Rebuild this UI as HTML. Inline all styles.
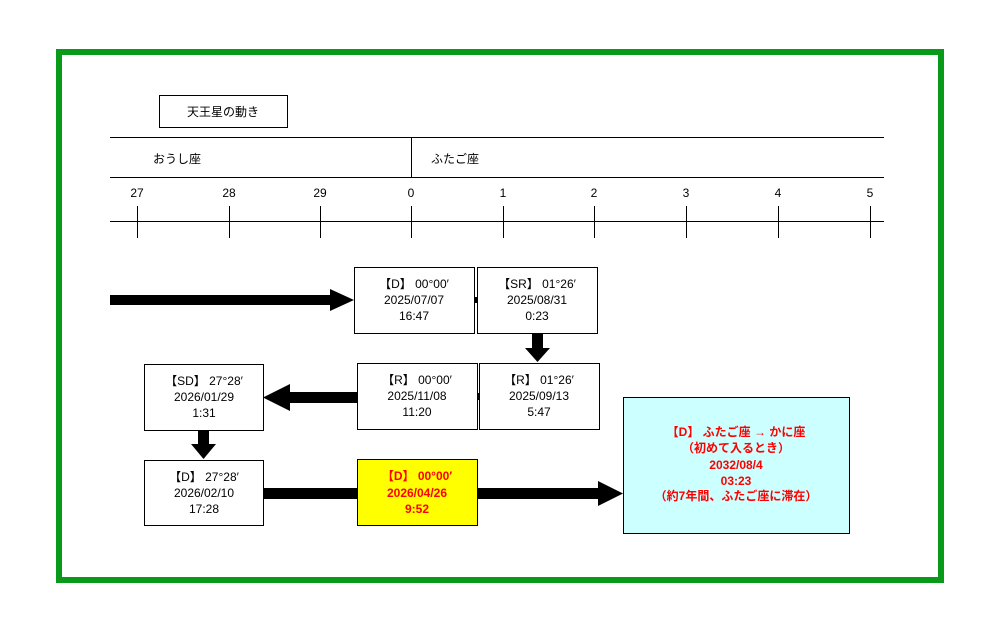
<!DOCTYPE html>
<html><head><meta charset="utf-8"><style>
body{margin:0;background:#fff;}
svg text{font-family:"Liberation Sans","Noto Sans CJK JP",sans-serif;font-size:12px;fill:#000;}
.r text{fill:#f00;font-weight:bold;}
</style></head><body>
<svg width="1000" height="636" xmlns="http://www.w3.org/2000/svg">
<rect x="59" y="52" width="882" height="528" fill="none" stroke="#0a9a1a" stroke-width="6"/>
<rect x="159.5" y="95.5" width="128" height="32" fill="#fff" stroke="#000"/>
<text x="223" y="116" text-anchor="middle" font-size="13">天王星の動き</text>
<g stroke="#000" stroke-width="1">
<line x1="110" y1="137.5" x2="884" y2="137.5"/>
<line x1="110" y1="177.5" x2="884" y2="177.5"/>
<line x1="110" y1="221.5" x2="884" y2="221.5"/>
<line x1="411.5" y1="137" x2="411.5" y2="177"/>
<line x1="137.5" y1="206" x2="137.5" y2="238"/>
<line x1="229.5" y1="206" x2="229.5" y2="238"/>
<line x1="320.5" y1="206" x2="320.5" y2="238"/>
<line x1="411.5" y1="206" x2="411.5" y2="238"/>
<line x1="503.5" y1="206" x2="503.5" y2="238"/>
<line x1="594.5" y1="206" x2="594.5" y2="238"/>
<line x1="686.5" y1="206" x2="686.5" y2="238"/>
<line x1="778.5" y1="206" x2="778.5" y2="238"/>
<line x1="870.5" y1="206" x2="870.5" y2="238"/>
</g>
<text x="153" y="163" font-size="13">おうし座</text>
<text x="431" y="163" font-size="13">ふたご座</text>
<g text-anchor="middle">
<text x="137" y="197">27</text><text x="229" y="197">28</text><text x="320" y="197">29</text>
<text x="411" y="197">0</text><text x="503" y="197">1</text><text x="594" y="197">2</text>
<text x="686" y="197">3</text><text x="778" y="197">4</text><text x="870" y="197">5</text>
</g>
<!-- arrows -->
<g fill="#000">
<rect x="110" y="295" width="222" height="10"/>
<polygon points="330,289 354,300 330,311"/>
<rect x="474" y="297" width="4" height="6"/>
<rect x="532" y="333" width="11" height="17"/>
<polygon points="525,348 550,348 537.5,362"/>
<rect x="477" y="393" width="3" height="7"/>
<rect x="288" y="392" width="70" height="11"/>
<polygon points="290,384 263,397.5 290,411"/>
<rect x="198" y="430" width="11" height="16"/>
<polygon points="191,444 216,444 203.5,459"/>
<rect x="263" y="488" width="95" height="11"/>
<rect x="477" y="488" width="123" height="11"/>
<polygon points="598,481 623,493.5 598,506"/>
</g>
<g stroke="#000" fill="#fff">
<rect x="354.5" y="267.5" width="120" height="66"/>
<rect x="477.5" y="267.5" width="120" height="66"/>
<rect x="479.5" y="363.5" width="120" height="66"/>
<rect x="357.5" y="363.5" width="120" height="66"/>
<rect x="144.5" y="364.5" width="119" height="66"/>
<rect x="144.5" y="460.5" width="119" height="65"/>
<rect x="357.5" y="459.5" width="120" height="66" fill="#ffff00"/>
<rect x="623.5" y="397.5" width="226" height="136" fill="#ccffff"/>
</g>
<g text-anchor="middle">
<text x="414" y="288">【D】 00°00′</text><text x="414" y="304">2025/07/07</text><text x="414" y="320">16:47</text>
<text x="537" y="288">【SR】 01°26′</text><text x="537" y="304">2025/08/31</text><text x="537" y="320">0:23</text>
<text x="539" y="384">【R】 01°26′</text><text x="539" y="400">2025/09/13</text><text x="539" y="416">5:47</text>
<text x="417" y="384">【R】 00°00′</text><text x="417" y="400">2025/11/08</text><text x="417" y="416">11:20</text>
<text x="204" y="385">【SD】 27°28′</text><text x="204" y="401">2026/01/29</text><text x="204" y="417">1:31</text>
<text x="204" y="481">【D】 27°28′</text><text x="204" y="497">2026/02/10</text><text x="204" y="513">17:28</text>
</g>
<g class="r" text-anchor="middle">
<text x="417" y="480">【D】 00°00′</text><text x="417" y="497">2026/04/26</text><text x="417" y="513">9:52</text>
<text x="736" y="436">【D】 ふたご座 → かに座</text>
<text x="736" y="452">（初めて入るとき）</text>
<text x="736" y="469">2032/08/4</text>
<text x="736" y="485">03:23</text>
<text x="736" y="500">（約7年間、ふたご座に滞在）</text>
</g>
</svg>
</body></html>
